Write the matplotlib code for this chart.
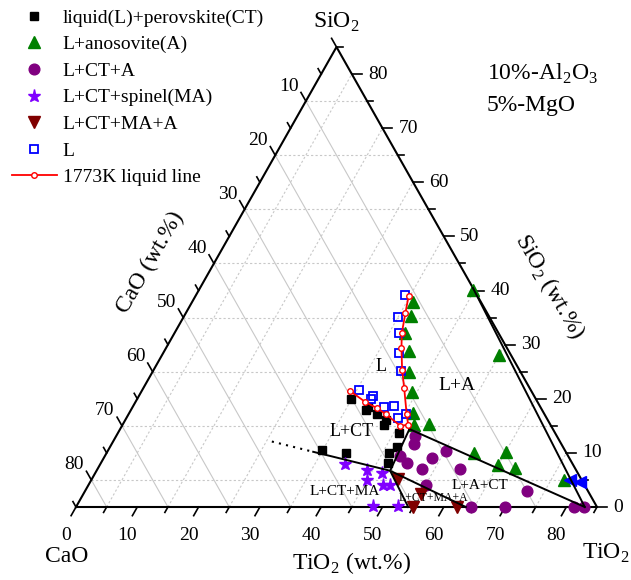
import matplotlib
matplotlib.use("Agg")
import matplotlib.pyplot as plt

plt.rcParams['font.family'] = ['Liberation Serif', 'DejaVu Serif']
plt.rcParams['mathtext.fontset'] = 'custom'
plt.rcParams['mathtext.rm'] = 'Liberation Serif'

TOTAL = 85  # CaO + SiO2 + TiO2 (wt.%), the rest is 10% Al2O3 + 5% MgO

# compositions: TiO2 and SiO2 in wt.%, CaO is the balance
ct_tio2 = [34.9, 38.3, 38.4, 40.5, 42.6, 42.6, 45.9, 46.9, 46.0, 46.8, 39.0, 34.9]
ct_sio2 = [19.9, 17.9, 18.4, 17.2, 16.0, 15.2, 13.6, 11.1, 10.0, 8.1, 10.0, 10.5]

a_tio2 = [36.1, 37.0, 37.6, 40.0, 41.9, 44.1, 46.4, 47.5, 49.9, 60.0, 44.8, 55.0, 65.0, 65.0, 68.1, 77.1]
a_sio2 = [37.9, 35.3, 32.1, 28.8, 24.9, 21.3, 17.3, 15.2, 15.3, 10.0, 40.1, 28.1, 10.2, 7.8, 7.2, 5.0]

cta_tio2 = [48.7, 49.4, 48.2, 50.0, 53.0, 53.5, 55.1, 59.2, 55.0, 72.0, 64.4, 70.0, 81.2, 82.8]
cta_sio2 = [13.2, 11.6, 9.4, 8.1, 7.0, 9.0, 10.4, 7.0, 4.1, 3.0, 0.0, 0.0, 0.0, 0.0]

ma_tio2 = [40.0, 44.1, 46.8, 45.1, 48.1, 49.3, 48.4, 52.5]
ma_sio2 = [7.9, 6.9, 6.3, 4.9, 4.1, 4.0, 0.2, 0.2]

maa_tio2 = [49.9, 55.1, 55.0, 62.2]
maa_sio2 = [5.2, 2.4, 0.0, 0.0]

liq_tio2 = [34.2, 35.0, 36.7, 38.4, 40.4, 35.4, 38.2, 38.2, 41.0, 42.5, 44.3, 45.3]
liq_sio2 = [39.1, 35.1, 32.1, 28.5, 25.2, 21.6, 20.6, 19.9, 18.5, 18.7, 16.4, 17.2]

other_tio2 = [78.2, 79.8]
other_sio2 = [4.9, 4.7]

# 1773 K liquidus line
line_tio2 = [34.8, 35.8, 37.1, 38.4, 40.5, 42.6, 45.4, 46.6, 45.4, 41.9, 39.9, 37.5, 33.9]
line_sio2 = [38.9, 35.9, 32.1, 29.4, 25.4, 21.9, 17.1, 15.2, 15.0, 17.2, 18.3, 19.4, 21.5]

# phase boundaries
bnd_main_tio2 = [47.2, 83.0]
bnd_main_sio2 = [14.4, 0.0]
bnd_ct_tio2 = [47.2, 47.9, 54.2]
bnd_ct_sio2 = [14.4, 6.7, 0.0]
bnd_ma_tio2 = [33.6, 47.9, 63.6]
bnd_ma_sio2 = [10.2, 6.7, 0.0]
bnd_dot_tio2 = [25.9, 33.6]
bnd_dot_sio2 = [12.1, 10.2]
bnd_a_tio2 = [44.5, 83.0]
bnd_a_sio2 = [40.5, 0.0]

ticks = list(range(0, 86, 5))
labels = list(range(0, 81, 10))


def xy(ti, si):
    # ternary -> cartesian, x along TiO2, y = SiO2 height
    ti = list(ti) if hasattr(ti, '__len__') else [ti]
    si = list(si) if hasattr(si, '__len__') else [si]
    return [t + s / 2 for t, s in zip(ti, si)], si


fig = plt.figure(figsize=(6.31, 5.80), dpi=100)
ax = fig.add_axes([76 / 631, 73 / 580, 521 / 631, 460 / 580])
ax.set_xlim(0, TOTAL)
ax.set_ylim(0, TOTAL)
ax.axis('off')

# grid
grid_c = '#c8c8c8'
for c in range(10, 81, 10):
    x, y = xy([0, TOTAL - c], [TOTAL - c, 0])
    ax.plot(x, y, color=grid_c, lw=0.8, zorder=1)
for v in range(5, 80, 10):
    x, y = xy([0, TOTAL - v], [v, v])
    ax.plot(x, y, color=grid_c, lw=0.8, ls=(0, (2, 2)), zorder=1)
    x, y = xy([v, v], [0, TOTAL - v])
    ax.plot(x, y, color=grid_c, lw=0.8, ls=(0, (2, 2)), zorder=1)

# frame
x, y = xy([0, TOTAL, 0, 0], [0, 0, TOTAL, 0])
ax.plot(x, y, color='black', lw=1.5, zorder=2, clip_on=False)

# ticks (extensions of the grid directions, in wt.% units)
for v in ticks:
    ln = 1.6 if v % 10 == 0 else 1.0
    x, y = xy([v, v], [0, -ln])  # bottom, TiO2
    ax.plot(x, y, color='black', lw=1.2, clip_on=False)
    x, y = xy([0, -ln], [TOTAL - v, TOTAL - v + ln])  # left, CaO
    ax.plot(x, y, color='black', lw=1.2, clip_on=False)
    x, y = xy([TOTAL - v, TOTAL - v + ln], [v, v])  # right, SiO2
    ax.plot(x, y, color='black', lw=1.2, clip_on=False)

for v in labels:
    x, y = xy(v, 0)
    ax.annotate(str(v), (x[0], y[0]), xytext=(-10, -28), textcoords='offset pixels',
                ha='center', va='center', fontsize=14)
    x, y = xy(TOTAL - v, v)
    ax.annotate(str(v), (x[0], y[0]), xytext=(16, 0), textcoords='offset pixels',
                ha='left', va='center', fontsize=14)
    if v > 0:
        x, y = xy(0, TOTAL - v)
        ax.annotate(str(v), (x[0], y[0]), xytext=(-17, 15), textcoords='offset pixels',
                    ha='center', va='center', fontsize=14)

# data
h_ct, = ax.plot(*xy(ct_tio2, ct_sio2), 's', color='black', ms=6, ls='none', zorder=3, clip_on=False)
h_a, = ax.plot(*xy(a_tio2, a_sio2), '^', color='#008000', ms=9, ls='none', zorder=3, clip_on=False)
h_cta, = ax.plot(*xy(cta_tio2, cta_sio2), 'o', color='#800080', ms=7.7, ls='none', zorder=3, clip_on=False)
h_ma, = ax.plot(*xy(ma_tio2, ma_sio2), '*', color='#8000ff', ms=9.5, ls='none', zorder=3, clip_on=False)
h_maa, = ax.plot(*xy(maa_tio2, maa_sio2), 'v', color='#800000', ms=9, ls='none', zorder=3, clip_on=False)
h_l, = ax.plot(*xy(liq_tio2, liq_sio2), 's', mfc='none', mec='#0000ff', mew=1.3, ms=5.5, ls='none',
               zorder=3, clip_on=False)
ax.plot(*xy(other_tio2, other_sio2), '<', color='#0000ff', ms=8, ls='none', zorder=3, clip_on=False)

for bt, bs in [(bnd_main_tio2, bnd_main_sio2), (bnd_ct_tio2, bnd_ct_sio2),
               (bnd_ma_tio2, bnd_ma_sio2), (bnd_a_tio2, bnd_a_sio2)]:
    ax.plot(*xy(bt, bs), color='black', lw=1.4, zorder=4, clip_on=False)
ax.plot(*xy(bnd_dot_tio2, bnd_dot_sio2), color='black', lw=1.5, ls=(0, (1, 2.5)), zorder=4)

h_line, = ax.plot(*xy(line_tio2, line_sio2), '-o', color='red', lw=1.3, ms=4, mfc='white',
                  mec='red', mew=1, zorder=5)

# phase field labels
for txt, ti, si, fs in [('L', 36.8, 25.9, 13), ('L+A', 50.9, 22.5, 14), ('L+CT', 38.0, 14.0, 13),
                        ('L+CT+MA', 42.5, 2.8, 11), ('L+A+CT', 64.0, 3.9, 11),
                        ('L+CT+MA+A', 57.4, 1.7, 8.5)]:
    x, y = xy(ti, si)
    ax.text(x[0], y[0], txt, ha='center', va='center', fontsize=fs, zorder=6)

# titles
fig.text(336 / 631, 1 - 22 / 580, r'SiO$_\mathregular{2}$', ha='center', va='center', fontsize=17)
fig.text(67 / 631, 1 - 557 / 580, 'CaO', ha='center', va='center', fontsize=17)
fig.text(606 / 631, 1 - 553 / 580, r'TiO$_\mathregular{2}$', ha='center', va='center', fontsize=17)
fig.text(352 / 631, 1 - 563 / 580, r'TiO$_\mathregular{2}$ (wt.%)', ha='center', va='center', fontsize=17)
fig.text(150 / 631, 1 - 262 / 580, 'CaO (wt.%)', ha='center', va='center', fontsize=17, rotation=60)
fig.text(550 / 631, 1 - 287 / 580, r'SiO$_\mathregular{2}$ (wt.%)', ha='center', va='center',
         fontsize=17, rotation=-60)
fig.text(487 / 631, 1 - 74 / 580, r'10%-Al$_\mathregular{2}$O$_\mathregular{3}$', ha='left', va='center',
         fontsize=17)
fig.text(487 / 631, 1 - 106 / 580, '5%-MgO', ha='left', va='center', fontsize=17)

handles = [h_ct, h_a, h_cta, h_ma, h_maa, h_l, h_line]
names = ['liquid(L)+perovskite(CT)', 'L+anosovite(A)', 'L+CT+A', 'L+CT+spinel(MA)',
         'L+CT+MA+A', 'L', '1773K liquid line']
fig.legend(handles, names, loc='upper left', bbox_to_anchor=(12 / 631, 1 - 9 / 580), frameon=False,
           fontsize=14, handlelength=2.3, handletextpad=0.3, labelspacing=0.46,
           borderpad=0, borderaxespad=0)

fig.savefig('out.png', dpi=100)
